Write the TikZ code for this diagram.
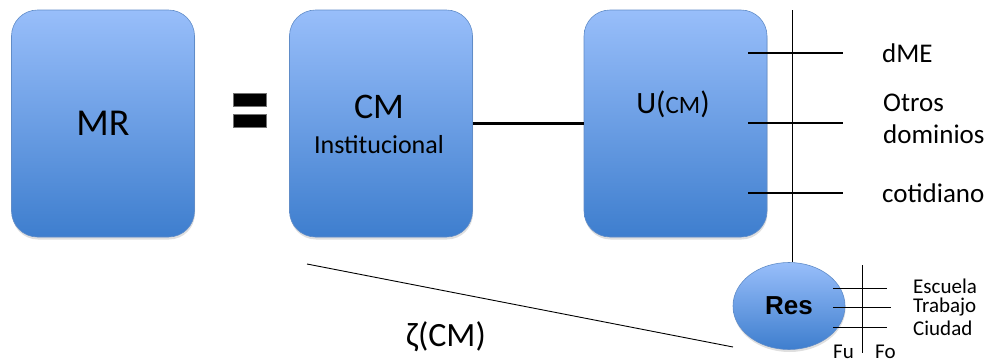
\documentclass[tikz,border=0pt]{standalone}
\usepackage{fontspec}
\setmainfont{Carlito}
\newfontfamily\arialfont{Liberation Sans}
\usetikzlibrary{shapes.geometric,shadows}
\definecolor{boxtop}{RGB}{152,190,250}
\definecolor{boxbot}{RGB}{62,126,206}
\definecolor{boxedge}{RGB}{96,140,200}
\tikzset{
  bluebox/.style={draw=boxedge, line width=0.6pt, rounded corners=26pt,
    top color=boxtop, bottom color=boxbot, minimum width=183pt, minimum height=227pt,
    inner sep=0pt, drop shadow={opacity=0.25, shadow xshift=0.5pt, shadow yshift=-2.5pt}},
  bluell/.style={draw=boxedge, line width=0.6pt, ellipse,
    top color=boxtop, bottom color=boxbot, minimum width=112pt, minimum height=87pt,
    inner sep=0pt, drop shadow={opacity=0.25, shadow xshift=0.5pt, shadow yshift=-2.5pt}},
  eqbar/.style={fill=black, draw=black!55, line width=0.8pt, minimum width=33pt,
    minimum height=13pt, inner sep=0pt},
  thick line/.style={line width=2.3pt},
  thin line/.style={line width=0.9pt},
  lbl/.style={anchor=west, inner sep=0pt, font=\fontsize{27}{32}\selectfont, align=left},
  slbl/.style={anchor=west, inner sep=0pt, font=\fontsize{21}{24}\selectfont},
}
\begin{document}
\begin{tikzpicture}[x=1pt,y=-1pt]
\useasboundingbox (0,0) rectangle (993,362);
% boxes
\node[bluebox] (mr) at (103,123.5) {\fontsize{38}{40}\selectfont MR};
\node[bluebox] (cm) at (381,123.5) {};
\node[font=\fontsize{36}{40}\selectfont, inner sep=0pt] (cmt) at (379,107) {CM};
\node[font=\fontsize{26}{30}\selectfont, inner sep=0pt] (cmi) at (379,145) {Institucional};
\node[bluebox] (u) at (675.5,123.5) {};
\node[inner sep=0pt] (ut) at (673,104) {\fontsize{31}{34}\selectfont U(\fontsize{25}{26}\selectfont CM\fontsize{31}{34}\selectfont )};
% equals sign
\node[eqbar] (eq1) at (250,100) {};
\node[eqbar] (eq2) at (250,121) {};
% connector between boxes
\draw[thick line] (cm.east) -- (u.west);
% Res ellipse
\node[bluell] (res) at (789,306) {\arialfont\bfseries\fontsize{26}{28}\selectfont Res};
% vertical axis
\coordinate (vtop) at (792,10);
\draw[thin line] (vtop) -- (vtop |- res.north);
% horizontal lines and labels
\coordinate (h1a) at (748,53);  \coordinate (h1b) at (843,53);
\coordinate (h2a) at (748,123); \coordinate (h2b) at (843,123);
\coordinate (h3a) at (748,193); \coordinate (h3b) at (843,193);
\draw[thick line] (h1a) -- (h1b);
\draw[thick line] (h2a) -- (h2b);
\draw[thick line] (h3a) -- (h3b);
\node[lbl] (dme) at (882,53) {dME};
\node[lbl] (otros) at (883,119) {Otros\\dominios};
\node[lbl] (coti) at (882,193) {cotidiano};
% small axis near Res
\coordinate (sv1) at (862,265); \coordinate (sv2) at (862,353);
\draw[thin line] (sv1) -- (sv2);
\coordinate (s1a) at (833,288); \coordinate (s1b) at (887,288);
\coordinate (s2a) at (833,307); \coordinate (s2b) at (891,307);
\coordinate (s3a) at (833,327); \coordinate (s3b) at (887,327);
\draw[thin line] (s1a) -- (s1b);
\draw[thin line] (s2a) -- (s2b);
\draw[thin line] (s3a) -- (s3b);
\node[slbl] (esc) at (913,286) {Escuela};
\node[slbl] (trab) at (913,307) {Trabajo};
\node[slbl] (ciu) at (913,328) {Ciudad};
\node[slbl] (fu) at (833,352) {Fu};
\node[slbl] (fo) at (875,352) {Fo};
% diagonal line and label
\coordinate (d1) at (307,264); \coordinate (d2) at (733,347);
\draw[thin line] (d1) -- (d2);
\node[font=\fontsize{34}{38}\selectfont, inner sep=0pt] (zeta) at (446,337) {ζ(CM)};
\end{tikzpicture}
\end{document}
